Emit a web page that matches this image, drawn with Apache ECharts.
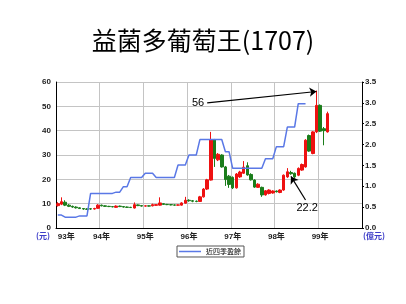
<!DOCTYPE html>
<html>
<head>
<meta charset="utf-8">
<script src="https://cdn.jsdelivr.net/npm/echarts@6/dist/echarts.min.js"></script>
<style>
html,body{margin:0;padding:0;background:#fff;}
#chart{width:406px;height:304px;}
</style>
</head>
<body>
<div id="chart"></div>
<script>
// ---- data ----
const yearLabels = ['93年','94年','95年','96年','97年','98年','99年'];
const startYear = 1993;
// monthly candles, Jan 1993 .. Mar 1999
const opens  = [9.2,9.8,10.6,9.4,8.9,8.6,8.3,8.0,7.8,7.9,7.8,8.1,9.4,9.1,8.9,8.8,8.5,9.0,8.8,8.6,8.5,8.2,9.5,9.2,9.0,9.1,9.1,9.3,9.4,10.0,9.7,9.6,9.5,9.4,9.4,10.2,11.4,11.2,11.0,10.9,12.8,16.0,19.7,36.2,28.0,30.0,25.1,21.3,20.8,16.5,21.0,22.5,25.6,22.0,19.7,16.7,16.7,13.6,14.2,14.4,15.2,14.6,15.6,21.0,22.8,22.5,21.7,23.8,25.1,38.0,30.6,39.5,50.4,40.8,39.5];
const closes = [10.0,10.8,9.4,8.9,8.6,8.3,8.0,7.8,7.7,7.8,8.0,9.4,9.1,8.9,8.8,8.7,9.0,8.8,8.6,8.5,8.4,9.6,9.2,9.0,9.1,9.0,9.6,9.6,10.3,9.7,9.6,9.5,9.4,9.5,10.3,11.4,11.2,11.0,10.9,12.8,16.0,19.8,36.2,28.6,30.3,25.1,19.9,17.9,16.5,22.2,23.0,25.0,21.8,19.8,16.8,18.0,13.6,15.3,15.6,15.2,14.9,15.6,21.7,23.1,22.3,21.0,24.5,26.1,36.1,31.6,39.5,50.4,39.8,40.0,47.0];
const lows   = [8.8,9.4,9.0,8.6,8.3,8.0,7.8,7.5,7.4,7.5,7.6,7.9,8.9,8.7,8.6,8.5,8.3,8.6,8.4,8.3,8.2,8.0,9.0,8.8,8.8,8.8,8.9,9.1,9.2,9.5,9.4,9.3,9.2,9.2,9.2,10.0,10.8,10.6,10.6,10.7,12.5,15.6,19.5,25.1,27.5,24.8,17.3,16.5,16.0,16.2,20.6,22.2,21.5,19.5,16.5,16.5,12.8,13.3,13.8,14.1,14.6,14.3,15.3,20.6,21.9,20.5,21.3,23.5,24.8,31.3,30.3,39.0,39.5,34.0,39.2];
const highs  = [10.6,12.6,11.4,9.8,9.2,8.9,8.5,8.2,8.1,8.2,8.3,9.8,9.6,9.3,9.1,9.0,9.3,9.2,9.0,8.8,8.7,10.5,9.7,9.4,9.3,9.3,10.0,9.8,12.6,10.1,9.9,9.8,9.7,9.7,10.6,12.8,11.8,11.5,11.3,13.2,16.4,20.2,39.5,36.6,30.8,30.3,25.5,21.8,21.2,22.6,23.5,27.5,27.0,22.5,20.0,18.4,17.0,15.6,15.9,15.5,15.4,15.9,22.0,24.6,23.5,22.8,24.9,26.5,36.5,38.4,39.8,56.5,50.8,41.5,47.8];
// trailing four-quarter earnings (億元), monthly, Jan 1993 .. Sep 1998
const eps = [0.31,0.31,0.26,0.26,0.26,0.26,0.29,0.29,0.29,0.83,0.83,0.83,0.83,0.83,0.83,0.83,0.86,0.86,0.99,0.99,1.21,1.21,1.21,1.21,1.31,1.31,1.31,1.21,1.21,1.21,1.21,1.21,1.21,1.51,1.51,1.51,1.75,1.75,1.75,2.12,2.12,2.12,2.12,2.12,2.12,2.12,1.83,1.83,1.43,1.43,1.43,1.43,1.43,1.43,1.43,1.43,1.43,1.66,1.66,1.66,1.95,1.95,1.95,2.42,2.42,2.42,2.98,2.98,2.98];
const seriesName = '近四季盈餘';
// annotations: [startMonthIdx, startValue, endMonthIdx, endValue, text]
const notes = [[41, 51.4, 71, 56.1, '56'], [68, 11.5, 64, 21.2, '22.2']];

// ---- build ----
const categories = [];
for (let y = 0; y < yearLabels.length; y++) {
  for (let m = 1; m <= 12; m++) categories.push((startYear + y) + '-' + m);
}
const candles = opens.map((o, i) => [o, closes[i], lows[i], highs[i]]);
const markData = notes.map(n => [
  {coord: [categories[n[0]], n[1]], label: {show: true, formatter: n[4], position: 'start', distance: 3}},
  {coord: [categories[n[2]], n[3]]}
]);

const lblFont = 'Liberation Sans, Noto Sans CJK TC, sans-serif';
const chart = echarts.init(document.getElementById('chart'), null, {renderer: 'canvas'});
chart.setOption({
  animation: false,
  backgroundColor: '#ffffff',
  title: {
    text: '益菌多葡萄王(1707)',
    left: 'center',
    top: 23,
    textStyle: {fontSize: 25, fontWeight: 'normal', color: '#000', fontFamily: 'Noto Sans CJK TC, Liberation Sans, sans-serif'}
  },
  legend: {
    data: [seriesName],
    left: 177,
    top: 246,
    padding: [2, 3, 2, 2],
    borderColor: '#555',
    borderWidth: 1,
    borderRadius: 0,
    icon: 'rect',
    itemWidth: 22,
    itemHeight: 1.5,
    itemStyle: {color: '#5a78e6'},
    textStyle: {fontSize: 7, color: '#000', fontFamily: 'Noto Sans CJK TC, sans-serif'}
  },
  grid: {left: 56, right: 44, top: 82, bottom: 76, containLabel: false},
  xAxis: {
    type: 'category',
    data: categories,
    boundaryGap: true,
    axisLine: {show: true, lineStyle: {color: '#000', width: 1}},
    axisTick: {show: false},
    axisLabel: {
      interval: (i) => i % 12 === 0,
      formatter: (v, i) => yearLabels[Math.floor(i / 12)],
      alignMinLabel: 'left',
      fontSize: 8, fontWeight: 'bold', color: '#222', margin: 5, fontFamily: lblFont
    },
    splitLine: {show: true, interval: (i) => i % 12 === 0 && i > 0, lineStyle: {color: '#c4c4c4', width: 1}}
  },
  yAxis: [
    {
      type: 'value', min: 0, max: 60, interval: 10, position: 'left',
      axisLine: {show: true, lineStyle: {color: '#000', width: 1}},
      axisTick: {show: false},
      axisLabel: {fontSize: 8, fontWeight: 'bold', color: '#222', margin: 5, fontFamily: lblFont},
      splitLine: {show: true, lineStyle: {color: '#c4c4c4', width: 1}}
    },
    {
      type: 'value', min: 0, max: 3.5, interval: 0.5, position: 'right',
      axisLine: {show: true, lineStyle: {color: '#000', width: 1}},
      axisTick: {show: true, length: 2, lineStyle: {color: '#000'}},
      axisLabel: {fontSize: 8, fontWeight: 'bold', color: '#222', margin: 3, fontFamily: lblFont, formatter: (v) => v.toFixed(1)},
      splitLine: {show: false}
    }
  ],
  graphic: [
    {type: 'text', left: 36, top: 232, style: {text: '(元)', fill: '#3c3cc8', font: 'bold 8px Noto Sans CJK TC, sans-serif'}},
    {type: 'text', left: 363, top: 232, style: {text: '(億元)', fill: '#3c3cc8', font: 'bold 8px Noto Sans CJK TC, sans-serif'}}
  ],
  series: [
    {
      type: 'candlestick',
      data: candles,
      xAxisIndex: 0, yAxisIndex: 0,
      barWidth: 3,
      itemStyle: {color: '#ee1111', color0: '#1b7d1b', borderColor: '#ee1111', borderColor0: '#1b7d1b', borderWidth: 1},
      markLine: {
        silent: true,
        symbol: ['none', 'arrow'],
        symbolSize: 7,
        lineStyle: {color: '#000', width: 1.2, type: 'solid'},
        label: {color: '#000', fontSize: 11, fontFamily: 'Liberation Sans, sans-serif'},
        data: markData
      }
    },
    {
      type: 'line',
      name: seriesName,
      data: eps,
      xAxisIndex: 0, yAxisIndex: 1,
      symbol: 'none',
      lineStyle: {color: '#5a78e6', width: 1.5},
      itemStyle: {color: '#5a78e6'}
    }
  ]
});
</script>
</body>
</html>
